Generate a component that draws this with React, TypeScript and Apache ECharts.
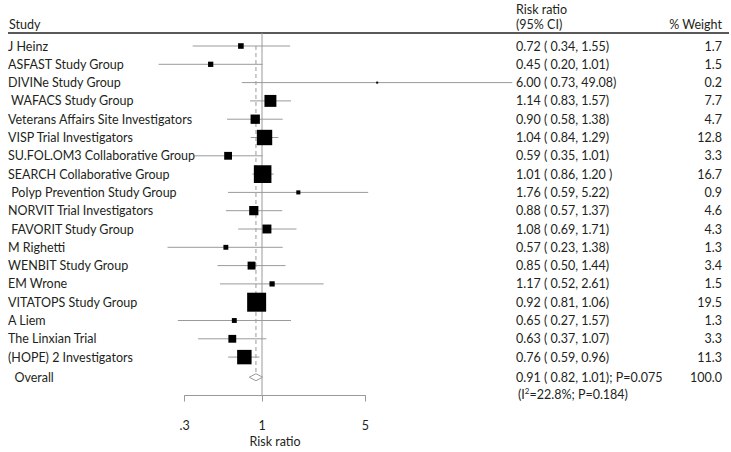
import React, { useEffect, useRef } from "react";
import * as echarts from "echarts";

// ---- data ----
const studies = [
  "J Heinz",
  "ASFAST Study Group",
  "DIVINe Study Group",
  " WAFACS Study Group",
  "Veterans Affairs Site Investigators",
  "VISP Trial Investigators",
  "SU.FOL.OM3 Collaborative Group",
  "SEARCH Collaborative Group",
  " Polyp Prevention Study Group",
  "NORVIT Trial Investigators",
  " FAVORIT Study Group",
  "M Righetti",
  "WENBIT Study Group",
  "EM Wrone",
  "VITATOPS Study Group",
  "A Liem",
  "The Linxian Trial",
  "(HOPE) 2 Investigators",
];
const riskRatio = [0.72, 0.45, 6.0, 1.14, 0.9, 1.04, 0.59, 1.01, 1.76, 0.88, 1.08, 0.57, 0.85, 1.17, 0.92, 0.65, 0.63, 0.76];
const ciLower = [0.34, 0.2, 0.73, 0.83, 0.58, 0.84, 0.35, 0.86, 0.59, 0.57, 0.69, 0.23, 0.5, 0.52, 0.81, 0.27, 0.37, 0.59];
const ciUpper = [1.55, 1.01, 49.08, 1.57, 1.38, 1.29, 1.01, 1.2, 5.22, 1.37, 1.71, 1.38, 1.44, 2.61, 1.06, 1.57, 1.07, 0.96];
const weights = [1.7, 1.5, 0.2, 7.7, 4.7, 12.8, 3.3, 16.7, 0.9, 4.6, 4.3, 1.3, 3.4, 1.5, 19.5, 1.3, 3.3, 11.3];
const ciLabels = [
  "0.72 ( 0.34, 1.55)",
  "0.45 ( 0.20, 1.01)",
  "6.00 ( 0.73, 49.08)",
  "1.14 ( 0.83, 1.57)",
  "0.90 ( 0.58, 1.38)",
  "1.04 ( 0.84, 1.29)",
  "0.59 ( 0.35, 1.01)",
  "1.01 ( 0.86, 1.20 )",
  "1.76 ( 0.59, 5.22)",
  "0.88 ( 0.57, 1.37)",
  "1.08 ( 0.69, 1.71)",
  "0.57 ( 0.23, 1.38)",
  "0.85 ( 0.50, 1.44)",
  "1.17 ( 0.52, 2.61)",
  "0.92 ( 0.81, 1.06)",
  "0.65 ( 0.27, 1.57)",
  "0.63 ( 0.37, 1.07)",
  "0.76 ( 0.59, 0.96)",
];
const overall = { label: "  Overall", rr: 0.91, lo: 0.82, hi: 1.01, text: "0.91 ( 0.82, 1.01); P=0.075", weight: "100.0" };
const heterogeneity = ["(I", "2", "=22.8%; P=0.184)"];
const axisTicks = [0.3, 1, 5];
const axisTickLabels = [".3", "1", "5"];
const axisTitle = "Risk ratio";
const headers = { study: "Study", ci1: "Risk ratio", ci2: "(95% CI)", weight: "% Weight" };

// ---- layout ----
const FONT = "Lato, 'Open Sans', sans-serif";
const FS = 12.5;
const TEXT = "#231f20";
const GRAY = "#9a9a9a";
const ROW0 = 46;
const ROWH = 18.3;
const OVERALL_ROW = 18.1;
const HET_ROW = 19.0;
const Y_MIN = -1;
const Y_MAX = 19.1;
const X_MIN = 0.15;
const X_MAX = 50;
const PX_PER_DEC = 148;
const X1 = 262; // pixel of RR = 1
const xPix = (v: number) => X1 + PX_PER_DEC * Math.log10(v);
const yPix = (i: number) => ROW0 + ROWH * i;

export default function App() {
  const ref = useRef<HTMLDivElement>(null);
  useEffect(() => {
    if (!ref.current) return;
    const chart = echarts.init(ref.current, null, { renderer: "svg" });
    const W = 731;
    const H = 452;
    const gLeft = xPix(X_MIN);
    const gRight = W - xPix(X_MAX);
    const gTop = yPix(Y_MIN);
    const gBottom = H - yPix(Y_MAX);
    const aLeft = xPix(axisTicks[0]);
    const aRight = W - xPix(axisTicks[axisTicks.length - 1]);
    const logTicks = axisTicks.map((v) => Math.log10(v));

    const rowData = studies.map((_, i) => [i, riskRatio[i], ciLower[i], ciUpper[i], weights[i]]);
    const txt = (text: string, x: number, y: number, align: string) => ({
      type: "text",
      style: { text, x, y, fill: TEXT, fontSize: FS, fontFamily: FONT, align, verticalAlign: "middle" },
    });

    chart.setOption({
      animation: false,
      grid: [
        { left: gLeft, right: gRight, top: gTop, bottom: gBottom },
        { left: aLeft, right: aRight, bottom: gBottom, height: 10 },
      ],
      xAxis: [
        { type: "log", logBase: 10, min: X_MIN, max: X_MAX, show: false, gridIndex: 0 },
        {
          type: "value",
          gridIndex: 1,
          min: logTicks[0],
          max: logTicks[logTicks.length - 1],
          position: "bottom",
          axisLine: { show: true, lineStyle: { color: GRAY, width: 1 } },
          axisTick: { show: true, customValues: logTicks, length: 6, inside: false, lineStyle: { color: GRAY } },
          axisLabel: {
            customValues: logTicks,
            margin: 23,
            color: TEXT,
            fontSize: FS,
            fontFamily: FONT,
            formatter: (v: number) => {
              const k = logTicks.findIndex((t) => Math.abs(t - v) < 1e-6);
              return k >= 0 ? axisTickLabels[k] : "";
            },
          },
          splitLine: { show: false },
          name: axisTitle,
          nameLocation: "middle",
          nameGap: 39,
          nameTextStyle: { color: TEXT, fontSize: FS, fontFamily: FONT },
        },
      ],
      yAxis: [
        { type: "value", inverse: true, min: Y_MIN, max: Y_MAX, show: false, gridIndex: 0 },
        { type: "value", show: false, gridIndex: 1 },
      ],
      graphic: [
        { type: "text", style: { text: headers.study, x: 9, y: 24, fill: TEXT, fontSize: FS, fontFamily: FONT, verticalAlign: "middle" } },
        { type: "text", style: { text: headers.ci1, x: 516, y: 9.5, fill: TEXT, fontSize: FS, fontFamily: FONT, verticalAlign: "middle" } },
        { type: "text", style: { text: headers.ci2, x: 516, y: 24.5, fill: TEXT, fontSize: FS, fontFamily: FONT, verticalAlign: "middle" } },
        { type: "text", style: { text: headers.weight, x: 722, y: 24.5, fill: TEXT, fontSize: FS, fontFamily: FONT, align: "right", verticalAlign: "middle" } },
        { type: "line", shape: { x1: 8, y1: 33, x2: 729, y2: 33 }, style: { stroke: "#222", lineWidth: 1.5 } },
      ],
      series: [
        {
          type: "custom",
          xAxisIndex: 0,
          yAxisIndex: 0,
          data: [
            [1, -0.71, Y_MAX, 0],
            [overall.rr, 0, OVERALL_ROW - 0.2, 1],
          ],
          encode: { x: 0, y: [1, 2] },
          renderItem: (params: any, api: any) => {
            const x = api.value(0);
            const a = api.coord([x, api.value(1)]);
            const b = api.coord([x, api.value(2)]);
            const dashed = api.value(3) === 1;
            return {
              type: "line",
              shape: { x1: a[0], y1: a[1], x2: b[0], y2: b[1] },
              style: { stroke: GRAY, lineWidth: 1, lineDash: dashed ? [4, 3] : null },
            };
          },
        },
        {
          type: "custom",
          xAxisIndex: 0,
          yAxisIndex: 0,
          data: rowData,
          encode: { x: [1, 2, 3], y: 0 },
          renderItem: (params: any, api: any) => {
            const i = api.value(0);
            const c = api.coord([api.value(1), i]);
            const l = api.coord([api.value(2), i]);
            const h = api.coord([api.value(3), i]);
            const w = api.value(4);
            const s = Math.max(2, Math.sqrt(w) * 4.3);
            const idx = params.dataIndex;
            return {
              type: "group",
              children: [
                { type: "line", shape: { x1: l[0], y1: l[1], x2: h[0], y2: h[1] }, style: { stroke: GRAY, lineWidth: 1 } },
                { type: "rect", shape: { x: c[0] - s / 2, y: c[1] - s / 2, width: s, height: s }, style: { fill: "#000" } },
                txt(studies[idx], 8, c[1], "left"),
                txt(ciLabels[idx], 516, c[1], "left"),
                txt(weights[idx].toFixed(1), 722, c[1], "right"),
              ],
            };
          },
        },
        {
          type: "custom",
          xAxisIndex: 0,
          yAxisIndex: 0,
          data: [[OVERALL_ROW, overall.rr, overall.lo, overall.hi]],
          encode: { x: [1, 2, 3], y: 0 },
          renderItem: (params: any, api: any) => {
            const i = api.value(0);
            const c = api.coord([api.value(1), i]);
            const l = api.coord([api.value(2), i]);
            const h = api.coord([api.value(3), i]);
            const hy = api.coord([1, HET_ROW])[1];
            const d = 3.5;
            return {
              type: "group",
              children: [
                {
                  type: "polygon",
                  shape: { points: [[l[0], c[1]], [c[0], c[1] - d], [h[0], c[1]], [c[0], c[1] + d]] },
                  style: { fill: "#fff", stroke: GRAY, lineWidth: 1 },
                },
                txt(overall.label, 8, c[1], "left"),
                txt(overall.text, 516, c[1], "left"),
                txt(overall.weight, 722, c[1], "right"),
                {
                  type: "text",
                  style: {
                    text: "{n|" + heterogeneity[0] + "}{s|" + heterogeneity[1] + "}{n|" + heterogeneity[2] + "}",
                    x: 518,
                    y: hy,
                    verticalAlign: "middle",
                    rich: {
                      n: { fill: TEXT, fontSize: FS, fontFamily: FONT, lineHeight: 14, verticalAlign: "bottom" },
                      s: { fill: TEXT, fontSize: 8, fontFamily: FONT, lineHeight: 14, verticalAlign: "top" },
                    },
                  },
                },
              ],
            };
          },
        },
      ],
    });
    return () => chart.dispose();
  }, []);
  return <div ref={ref} style={{ width: 731, height: 452, position: "absolute", left: 0, top: 0 }} />;
}
